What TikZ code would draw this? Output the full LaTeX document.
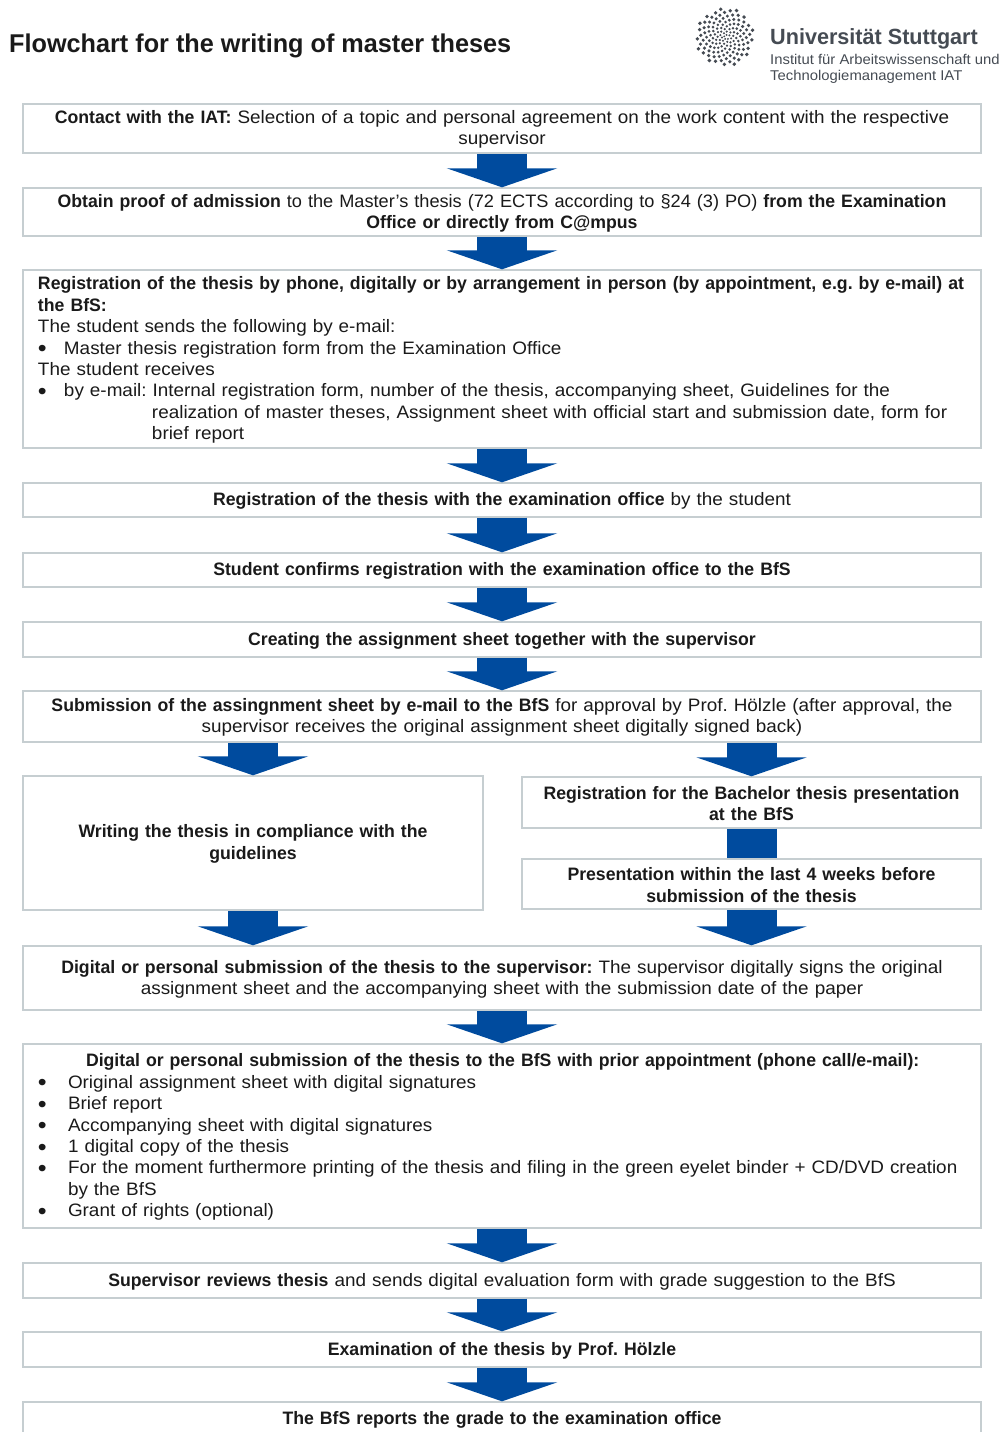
\documentclass[tikz,border=0pt]{standalone}
\usepackage{fontspec}
\setmainfont{Liberation Sans}[FakeStretch=1.05,BoldFeatures={FakeStretch=0.982}]
\usetikzlibrary{arrows.meta}
\definecolor{flowblue}{HTML}{004B9E}
\definecolor{boxline}{HTML}{C6CED1}
\definecolor{inktext}{HTML}{1A1A1A}
\definecolor{logogray}{HTML}{454B53}
\newcommand{\bulletmark}{\raisebox{-2.6pt}{\fontsize{24}{24}\selectfont •}}
\newcommand{\bu}{\makebox[26pt][l]{\bulletmark}}
\newcommand{\bub}{\makebox[30pt][l]{\bulletmark}}
\frenchspacing
\tikzset{
  flowbox/.style={draw=boxline,line width=1.4pt,inner sep=0pt,text=inktext,align=center,
    font=\fontsize{18}{21.43}\selectfont,execute at begin node={\rule{0pt}{15.2pt}}},
  wide/.style={text width=958pt},
  half/.style={text width=459pt},
  flowarrow/.style={draw=flowblue,line width=50pt,-{Triangle[width=110pt,length=19pt,fill=flowblue]}},
  flowshaft/.style={draw=flowblue,line width=50pt},
}
\begin{document}
\begin{tikzpicture}[x=1pt,y=-1pt]
\useasboundingbox (0,0) rectangle (1001,1432);
\node[anchor=west,inner sep=0pt,text=inktext,font=\fontsize{25.7}{28}\selectfont\bfseries] (title) at (9,46) {Flowchart for the writing of master theses};
\gdef\rsq{1}
\foreach \n in {1,...,135}{
  \pgfmathsetmacro{\myr}{sqrt(\rsq)}
  \pgfmathsetmacro{\mys}{3+0.1*\myr}
  \pgfmathsetmacro{\mya}{360*mod(\n*0.381966,1)}
  \pgfmathsetmacro{\myd}{0.33*\mys}
  \fill[logogray] (725,37) ++(\mya:\myr pt) circle[radius=\myd pt];
  \pgfmathsetmacro{\nextr}{\rsq+\mys*\mys*0.277}
  \xdef\rsq{\nextr}
}
\node[anchor=west,inner sep=0pt,text=logogray,font=\fontsize{22}{24}\selectfont\bfseries] (uni) at (770,39) {Universität Stuttgart};
\node[anchor=west,inner sep=0pt,text=logogray,font=\fontsize{14.15}{16.5}\selectfont,align=left] (inst) at (770,69) {Institut für Arbeitswissenschaft und\\Technologiemanagement IAT};

\node[flowbox,wide,minimum height=49pt] (b1) at (502,128.5) {\textbf{Contact with the IAT:} Selection of a topic and personal agreement on the work content with the respective\\supervisor};
\node[flowbox,wide,minimum height=48pt] (b2) at (502,212) {\textbf{Obtain proof of admission} {\addfontfeatures{FakeStretch=1.01}to the Master's thesis (72 ECTS according to §24 (3) PO)} \textbf{from the Examination}\\\textbf{Office or directly from C@mpus}};
\node[flowbox,wide,minimum height=178pt,align=left] (b3) at (502,359) {%
\hspace*{15pt}\textbf{Registration of the thesis by phone, digitally or by arrangement in person (by appointment, e.g. by e-mail) at}\\
\hspace*{15pt}\textbf{the BfS:}\\
\hspace*{15pt}The student sends the following by e-mail:\\
\hspace*{15pt}\bu Master thesis registration form from the Examination Office\\
\hspace*{15pt}The student receives\\
\hspace*{15pt}\bu by e-mail: Internal registration form, number of the thesis, accompanying sheet, Guidelines for the\\
\hspace*{129pt}realization of master theses, Assignment sheet with official start and submission date, form for\\
\hspace*{129pt}brief report};
\node[flowbox,wide,minimum height=34pt] (b4) at (502,500) {\textbf{Registration of the thesis with the examination office} by the student};
\node[flowbox,wide,minimum height=34pt] (b5) at (502,570) {\textbf{Student confirms registration with the examination office to the BfS}};
\node[flowbox,wide,minimum height=35pt] (b6) at (502,639.5) {\textbf{Creating the assignment sheet together with the supervisor}};
\node[flowbox,wide,minimum height=51pt] (b7) at (502,716.5) {\textbf{Submission of the assingnment sheet by e-mail to the BfS} for approval by Prof. Hölzle (after approval, the\\supervisor receives the original assignment sheet digitally signed back)};
\node[flowbox,half,text width=460pt,minimum height=134pt] (b8) at (253,843) {\textbf{Writing the thesis in compliance with the}\\\textbf{guidelines}};
\node[flowbox,half,minimum height=51pt] (b8a) at (751.5,802.5) {\textbf{Registration for the Bachelor thesis presentation}\\\textbf{at the BfS}};
\node[flowbox,half,minimum height=50pt] (b8b) at (751.5,884) {\textbf{Presentation within the last 4 weeks before}\\\textbf{submission of the thesis}};
\node[flowbox,wide,minimum height=64pt] (b9) at (502,978) {\textbf{Digital or personal submission of the thesis to the supervisor:} The supervisor digitally signs the original\\assignment sheet and the accompanying sheet with the submission date of the paper};
\node[flowbox,wide,minimum height=184pt,align=left] (b10) at (502,1136) {%
\hspace*{63pt}\textbf{Digital or personal submission of the thesis to the BfS with prior appointment (phone call/e-mail):}\\
\hspace*{15pt}\bub Original assignment sheet with digital signatures\\
\hspace*{15pt}\bub Brief report\\
\hspace*{15pt}\bub Accompanying sheet with digital signatures\\
\hspace*{15pt}\bub 1 digital copy of the thesis\\
\hspace*{15pt}\bub For the moment furthermore printing of the thesis and filing in the green eyelet binder + CD/DVD creation\\
\hspace*{45pt}by the BfS\\
\hspace*{15pt}\bub Grant of rights (optional)};
\node[flowbox,wide,minimum height=35pt] (b11) at (502,1280.5) {\textbf{Supervisor reviews thesis} and sends digital evaluation form with grade suggestion to the BfS};
\node[flowbox,wide,minimum height=35pt] (b12) at (502,1349.5) {\textbf{Examination of the thesis by Prof. Hölzle}};
\node[flowbox,wide,minimum height=34pt] (b13) at (502,1419) {\textbf{The BfS reports the grade to the examination office}};

\foreach \a/\b in {b1/b2,b2/b3,b3/b4,b4/b5,b5/b6,b6/b7,b9/b10,b10/b11,b11/b12,b12/b13}
  \draw[flowarrow] (\a.south) -- (\b.north);
\draw[flowarrow] (b7.south -| b8.north) -- (b8.north);
\draw[flowarrow] (b7.south -| b8a.north) -- (b8a.north);
\draw[flowshaft] (b8a.south) -- (b8b.north);
\draw[flowarrow] (b8.south) -- (b8.south |- b9.north);
\draw[flowarrow] (b8b.south) -- (b8b.south |- b9.north);
\end{tikzpicture}
\end{document}
